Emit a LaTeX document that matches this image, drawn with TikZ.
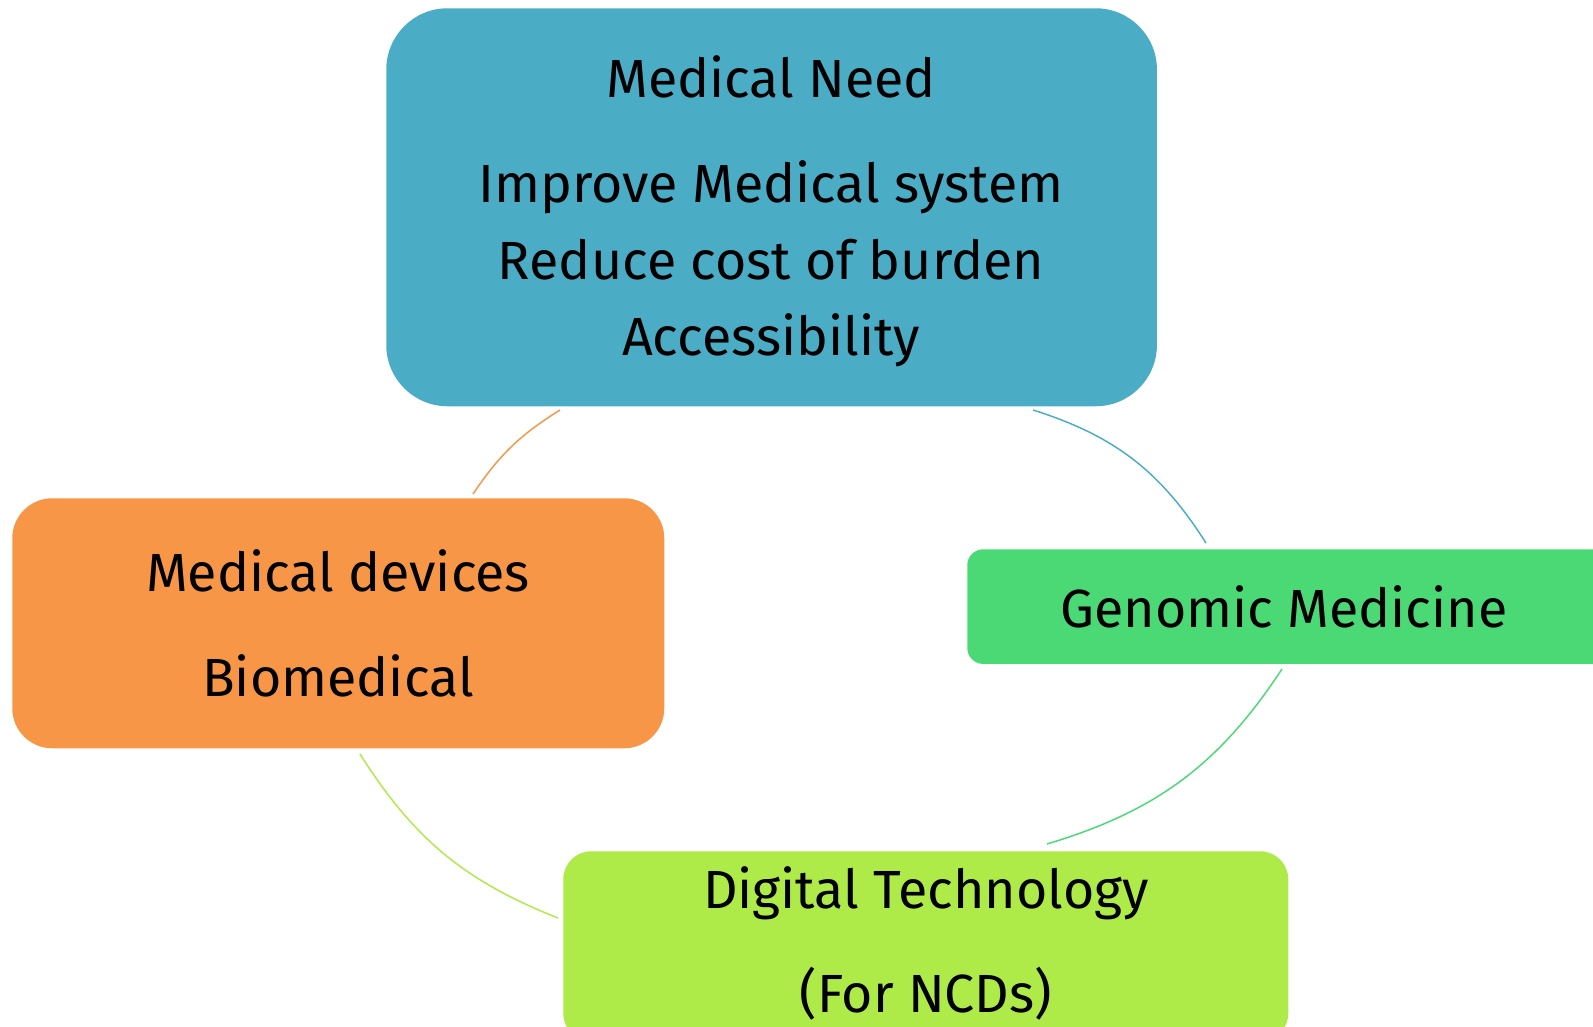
\documentclass[tikz,border=0pt]{standalone}
\usepackage{fontspec}
\setmainfont{Fira Sans}
\definecolor{cblue}{HTML}{4BACC6}
\definecolor{corange}{HTML}{F79646}
\definecolor{cgreen}{HTML}{4AD975}
\definecolor{clime}{HTML}{AEEA48}
\begin{document}
\begin{tikzpicture}[x=0.75pt,y=0.75pt,
  box/.style={rectangle, draw=none, inner sep=0pt, anchor=north west},
  txt/.style={anchor=base, inner sep=0pt, text=black, font=\fontsize{40.3pt}{45pt}\selectfont},
  conn/.style={line width=1.1pt}]
\useasboundingbox (0,0) rectangle (1593,-1027);
% boxes
\node[box, fill=cblue, rounded corners=46pt, minimum width=578pt, minimum height=298.5pt] (need) at (386,-8) {};
\node[box, fill=corange, rounded corners=30pt, minimum width=489pt, minimum height=187.5pt] (dev) at (12,-498) {};
\node[box, fill=cgreen, rounded corners=12pt, minimum width=480pt, minimum height=86pt] (gen) at (967,-549) {};
\node[box, fill=clime, rounded corners=21pt, minimum width=543.75pt, minimum height=142.5pt] (dig) at (563,-851) {};
% texts
\node[txt] (need1) at (771,-98) {Medical Need};
\node[txt] (need2) at (771,-203) {Improve Medical system};
\node[txt] (need3) at (771,-279) {Reduce cost of burden};
\node[txt] (need4) at (771,-355) {Accessibility};
\node[txt] (dev1) at (338,-591) {Medical devices};
\node[txt] (dev2) at (338,-696) {Biomedical};
\node[txt] (gen1) at (1284,-627) {Genomic Medicine};
\node[txt] (dig1) at (926,-908) {Digital Technology};
\node[txt] (dig2) at (926,-1012) {(For NCDs)};
% connector ends
\coordinate (b1) at (1033,-410);
\coordinate (b2) at (1206,-543);
\coordinate (g1) at (1282,-669);
\coordinate (g2) at (1047,-844);
\coordinate (l1) at (558,-918);
\coordinate (l2) at (360,-754);
\coordinate (o1) at (473,-494);
\coordinate (o2) at (560,-410);
\draw[conn, cblue] (b1) to[bend left=20] (b2);
\draw[conn, cgreen] (g1) to[bend left=20] (g2);
\draw[conn, clime] (l1) to[bend left=18] (l2);
\draw[conn, corange] (o1) to[bend left=12] (o2);
\end{tikzpicture}
\end{document}
